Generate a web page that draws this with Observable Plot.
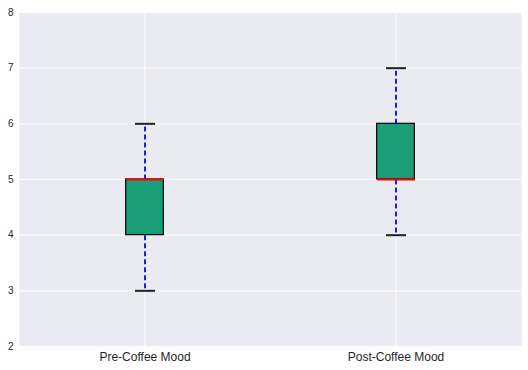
<!DOCTYPE html>
<html>
<head>
<meta charset="utf-8">
<script src="https://cdn.jsdelivr.net/npm/d3@7"></script>
<script src="https://cdn.jsdelivr.net/npm/@observablehq/plot@0.6"></script>
<style>
  html, body { margin: 0; padding: 0; background: #ffffff; }
  svg { display: block; }
</style>
</head>
<body>
<div id="chart"></div>
<script>
const categories = ["Pre-Coffee Mood", "Post-Coffee Mood"];
const mins    = [3, 4];
const q1s     = [4, 5];
const medians = [5, 5];
const q3s     = [5, 6];
const maxs    = [6, 7];
const yTicks  = [2, 3, 4, 5, 6, 7, 8];

const data = categories.map((c, i) => ({
  name: c, pos: i + 1, min: mins[i], q1: q1s[i], med: medians[i], q3: q3s[i], max: maxs[i]
}));

const boxHalf = 0.075;
const capHalf = 0.04;

const chart = Plot.plot({
  width: 528,
  height: 370,
  marginLeft: 19,
  marginRight: 7,
  marginTop: 12,
  marginBottom: 24,
  style: { fontFamily: "Liberation Sans, Arial, sans-serif", background: "white", color: "#262626" },
  x: { type: "linear", domain: [0.5, categories.length + 0.5], ticks: categories.map((_, i) => i + 1),
       tickFormat: d => categories[d - 1], label: null },
  y: { domain: [2, 8], ticks: yTicks, label: null },
  marks: [
    Plot.frame({ fill: "#eaeaf2", stroke: null }),
    Plot.ruleY(yTicks, { stroke: "white", strokeWidth: 1 }),
    Plot.ruleX(data, { x: "pos", stroke: "white", strokeWidth: 1 }),
    Plot.link(data, { x1: "pos", x2: "pos", y1: "q3", y2: "max", stroke: "#1a1aff", strokeWidth: 2, strokeDasharray: "5,3" }),
    Plot.link(data, { x1: "pos", x2: "pos", y1: "q1", y2: "min", stroke: "#1a1aff", strokeWidth: 2, strokeDasharray: "5,3" }),
    Plot.link(data, { x1: d => d.pos - capHalf, x2: d => d.pos + capHalf, y1: "max", y2: "max", stroke: "#222", strokeWidth: 2 }),
    Plot.link(data, { x1: d => d.pos - capHalf, x2: d => d.pos + capHalf, y1: "min", y2: "min", stroke: "#222", strokeWidth: 2 }),
    Plot.rect(data, { x1: d => d.pos - boxHalf, x2: d => d.pos + boxHalf, y1: "q1", y2: "q3", fill: "#1b9e77", stroke: "black", strokeWidth: 1.2 }),
    Plot.link(data, { x1: d => d.pos - boxHalf, x2: d => d.pos + boxHalf, y1: "med", y2: "med", stroke: "red", strokeWidth: 2 }),
    Plot.axisY({ ticks: yTicks, tickFormat: d => String(d), tickSize: 0, tickPadding: 6, fontSize: 10, label: null }),
    Plot.axisX({ ticks: categories.map((_, i) => i + 1), tickFormat: d => categories[d - 1], tickSize: 0, tickPadding: 6, fontSize: 12, label: null })
  ]
});
document.getElementById("chart").appendChild(chart);
</script>
</body>
</html>
